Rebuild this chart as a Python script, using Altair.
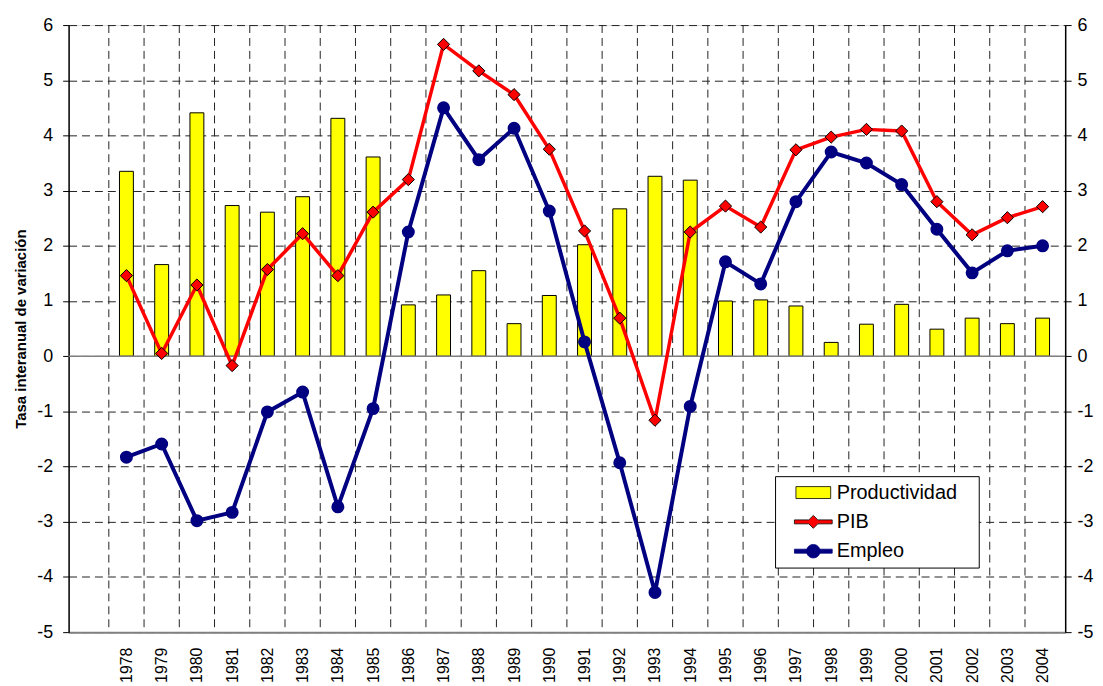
import altair as alt
import pandas as pd

years = list(range(1978, 2005))
productividad = [3.35, 1.66, 4.41, 2.73, 2.61, 2.89, 4.31, 3.61, 0.93, 1.11, 1.55, 0.59, 1.10, 2.02,
                 2.67, 3.26, 3.19, 1.00, 1.02, 0.91, 0.25, 0.58, 0.94, 0.49, 0.69, 0.59, 0.69]
pib = [1.46, 0.05, 1.29, -0.17, 1.57, 2.22, 1.46, 2.61, 3.20, 5.65, 5.17, 4.74, 3.75, 2.27,
       0.69, -1.16, 2.25, 2.72, 2.34, 3.74, 3.97, 4.11, 4.08, 2.80, 2.20, 2.51, 2.71]
empleo = [-1.83, -1.59, -2.98, -2.83, -1.01, -0.65, -2.73, -0.95, 2.25, 4.50, 3.56, 4.13, 2.63, 0.26,
          -1.93, -4.28, -0.91, 1.71, 1.31, 2.80, 3.70, 3.50, 3.11, 2.30, 1.51, 1.91, 2.00]
series = ["Productividad", "PIB", "Empleo"]
y_ticks = list(range(-5, 7))

FONT = "Liberation Sans"

df = pd.DataFrame({"year": years, "Productividad": productividad, "PIB": pib, "Empleo": empleo})
long_df = df.melt("year", var_name="serie", value_name="valor")
bounds_df = pd.DataFrame({"year": [y - 0.5 for y in years]})
zero_df = pd.DataFrame({"v": [0]})

x_scale = alt.Scale(domain=[years[0] - 1.5, years[-1] + 0.5], nice=False, zero=False)
y_scale = alt.Scale(domain=[-5, 6], nice=False)

x_axis = alt.Axis(values=years, format="d", labelAngle=-90, title=None, grid=False, ticks=False,
                  domainColor="#808080", domainWidth=2, labelFontSize=16, labelPadding=15,
                  labelColor="black", labelFont=FONT)
X = alt.X("year:Q", scale=x_scale, axis=x_axis)

left_axis = alt.Axis(values=y_ticks, grid=True, gridDash=[8, 5], gridColor="#222222", gridWidth=1,
                     domainColor="black", domainWidth=1.5, tickColor="black", tickSize=6,
                     labelFontSize=18, labelPadding=10, labelColor="black", labelFont=FONT,
                     labelExpr="'' + datum.value",
                     title="Tasa interanual de variación", titleFontSize=15, titleFontWeight="bold",
                     titleFont=FONT, titleColor="black", titlePadding=8)
right_axis = alt.Axis(values=y_ticks, orient="right", grid=False, domainColor="black", domainWidth=1.5,
                      tickColor="black", tickSize=6, labelFontSize=18, labelPadding=6,
                      labelExpr="'' + datum.value",
                      labelColor="black", labelFont=FONT, title=None)

vgrid = alt.Chart(bounds_df).mark_rule(color="#222222", strokeDash=[8, 5], strokeWidth=1).encode(
    x=X
)

bars = alt.Chart(df).mark_bar(color="#FFFF00", stroke="black", strokeWidth=1, size=14).encode(
    x=X,
    y=alt.Y("Productividad:Q", scale=y_scale, axis=left_axis),
    y2=alt.datum(0),
)

zero_line = alt.Chart(zero_df).mark_rule(color="#808080", strokeWidth=1.5).encode(
    y=alt.Y("v:Q", scale=y_scale, axis=right_axis)
)

pib_line = alt.Chart(df).mark_line(color="#FF0000", strokeWidth=3.5).encode(
    x=X, y=alt.Y("PIB:Q", scale=y_scale, axis=None),
)
pib_pts = alt.Chart(df).mark_point(shape="diamond", filled=True, fill="#FF0000", stroke="black",
                                   strokeWidth=1, size=150, opacity=1).encode(
    x=X, y=alt.Y("PIB:Q", scale=y_scale, axis=None),
)
emp_line = alt.Chart(df).mark_line(color="#000080", strokeWidth=4).encode(
    x=X, y=alt.Y("Empleo:Q", scale=y_scale, axis=None),
)
emp_pts = alt.Chart(df).mark_circle(color="#000080", size=170, opacity=1).encode(
    x=X, y=alt.Y("Empleo:Q", scale=y_scale, axis=None),
)

legend_paths = [
    "M-1.75,-0.6H1.75V0.6H-1.75Z",
    "M-1.9,-0.2H-0.45L0,-0.65L0.45,-0.2H1.9V0.2H0.45L0,0.65L-0.45,0.2H-1.9Z",
    "M-1.9,-0.2H1.9V0.2H-1.9Z M-0.68,0A0.68,0.68,0,1,1,0.68,0A0.68,0.68,0,1,1,-0.68,0Z",
]
leg = alt.Legend(title="\u00a0", titleOrient="right", titlePadding=16, titleFontSize=20,
                 orient="none", legendX=711, legendY=454, padding=6,
                 symbolOffset=22, labelOffset=13, labelFontSize=20, labelFont=FONT, labelColor="black",
                 strokeColor="black", fillColor="white", symbolSize=400, rowPadding=8.5,
                 symbolStrokeWidth=0.8, labelLimit=300)

legend_layer = alt.Chart(long_df).transform_filter("false").mark_point(filled=True, opacity=1).encode(
    x=X,
    y=alt.Y("valor:Q", scale=y_scale, axis=None),
    color=alt.Color("serie:N", scale=alt.Scale(domain=series, range=["#FFFF00", "#FF0000", "#000080"]),
                    legend=leg),
    shape=alt.Shape("serie:N", scale=alt.Scale(domain=series, range=legend_paths), legend=leg),
    stroke=alt.Stroke("serie:N", scale=alt.Scale(domain=series, range=["#000000", "#000000", "#000080"]),
                      legend=leg),
)

chart = alt.layer(
    vgrid, bars, zero_line, pib_line, pib_pts, emp_line, emp_pts, legend_layer
).resolve_scale(y="shared").resolve_axis(y="independent").properties(
    width=1003, height=611,
    autosize=alt.AutoSizeParams(type="none"),
    padding={"left": 61, "top": 15, "right": 30, "bottom": 50},
).configure_view(stroke="#808080", strokeWidth=1.5).configure(font=FONT)

chart.save("out.html", embed_options={"renderer": "svg", "actions": False})
